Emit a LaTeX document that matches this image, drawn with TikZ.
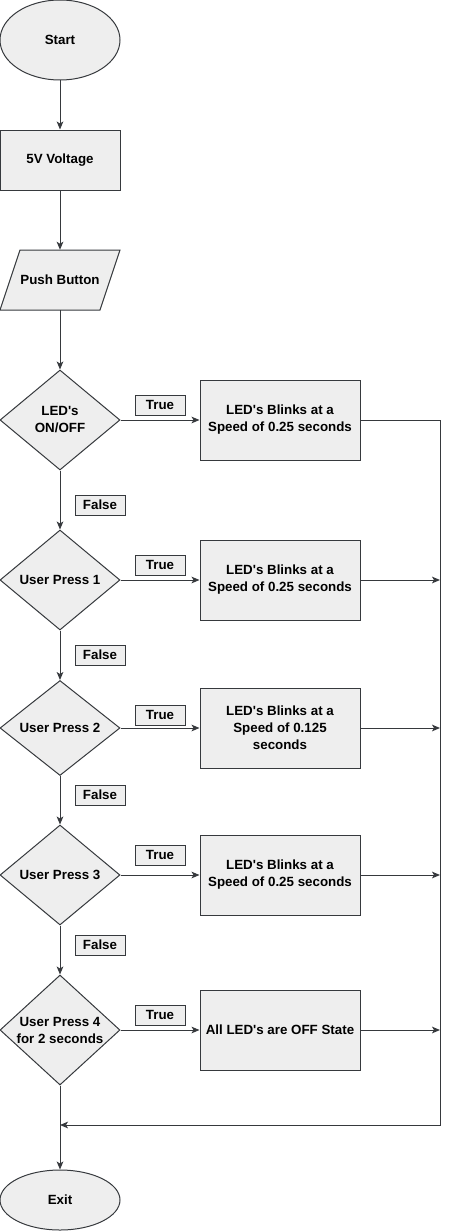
\documentclass[tikz,border=0pt]{standalone}
\usepackage{fontspec}
\setmainfont{Liberation Sans}[Ligatures=TeXOff]
\usetikzlibrary{shapes.geometric,arrows.meta}
\definecolor{fillg}{HTML}{EEEEEE}
\definecolor{strk}{HTML}{36393D}
\begin{document}
\begin{tikzpicture}[x=0.75pt,y=-0.75pt,
  base/.style={draw=strk,fill=fillg,font=\bfseries\fontsize{10}{12.75}\selectfont,align=center,inner sep=0pt,line width=0.75pt},
  term/.style={base,ellipse,minimum width=90pt},
  proc/.style={base,rectangle,minimum width=90pt,minimum height=45pt},
  act/.style={base,rectangle,minimum width=120pt,minimum height=60pt},
  dec/.style={base,diamond,minimum width=90pt,minimum height=75pt},
  tag/.style={base,rectangle,minimum width=37.5pt,minimum height=15pt},
  txt/.style={font=\bfseries\fontsize{10}{12.75}\selectfont,align=center,inner sep=0pt},
  arr/.style={draw=strk,line width=0.75pt,-{Stealth[length=6pt,width=5pt,inset=1.5pt]}},
  ln/.style={draw=strk,line width=0.75pt}
]
\useasboundingbox (0,0) rectangle (449,1231);

\node[term,minimum height=60pt] (start) at (60,40) {Start};
\node[proc] (volt) at (60,160) {5V Voltage};
\coordinate (pbtl) at (20,250);
\coordinate (pbtr) at (120,250);
\coordinate (pbbr) at (100,310);
\coordinate (pbbl) at (0,310);
\filldraw[base] (pbtl) -- (pbtr) -- (pbbr) -- (pbbl) -- cycle;
\node[txt,minimum width=90pt,minimum height=45pt] (pb) at (60,280) {Push Button};

\node[dec] (d1) at (60,420) {};
\node[txt] (d1t) at (d1) {LED's\\ON/OFF};
\node[dec] (d2) at (60,580) {};
\node[txt] (d2t) at (d2) {User Press 1};
\node[dec,minimum height=71.25pt] (d3) at (60,728) {};
\node[txt] (d3t) at (d3) {User Press 2};
\node[dec] (d4) at (60,875) {};
\node[txt] (d4t) at (d4) {User Press 3};
\node[dec,minimum height=82.5pt] (d5) at (60,1030) {};
\node[txt] (d5t) at (d5) {User Press 4\\for 2 seconds};

\node[act] (b1) at (280,420) {LED's Blinks at a\\Speed of 0.25 seconds};
\node[act] (b2) at (280,580) {LED's Blinks at a\\Speed of 0.25 seconds};
\node[act] (b3) at (280,728) {LED's Blinks at a\\Speed of 0.125\\seconds};
\node[act] (b4) at (280,875) {LED's Blinks at a\\Speed of 0.25 seconds};
\node[act] (b5) at (280,1030) {All LED's are OFF State};

\node[term,minimum height=45pt] (exit) at (60,1200) {Exit};

\node[tag] (t1) at (160,405) {True};
\node[tag] (t2) at (160,565) {True};
\node[tag] (t3) at (160,715) {True};
\node[tag] (t4) at (160,855) {True};
\node[tag] (t5) at (160,1015) {True};
\node[tag] (f1) at (100,505) {False};
\node[tag] (f2) at (100,655) {False};
\node[tag] (f3) at (100,795) {False};
\node[tag] (f4) at (100,945) {False};

\draw[arr] (start.south) -- (volt.north);
\draw[arr] (volt.south) -- (pb.north);
\draw[arr] (pb.south) -- (d1.north);
\draw[arr] (d1.south) -- (d2.north);
\draw[arr] (d2.south) -- (d3.north);
\draw[arr] (d3.south) -- (d4.north);
\draw[arr] (d4.south) -- (d5.north);
\draw[arr] (d5.south) -- (exit.north);

\draw[arr] (d1.east) -- (b1.west);
\draw[arr] (d2.east) -- (b2.west);
\draw[arr] (d3.east) -- (b3.west);
\draw[arr] (d4.east) -- (b4.west);
\draw[arr] (d5.east) -- (b5.west);

\coordinate (trtop) at (440,420);
\coordinate (trbot) at (440,1125);
\coordinate (join) at (60,1125);
\draw[arr] (b1.east) -- (trtop) -- (trbot) -- (join);
\draw[arr] (b2.east) -- (b2.east -| trbot);
\draw[arr] (b3.east) -- (b3.east -| trbot);
\draw[arr] (b4.east) -- (b4.east -| trbot);
\draw[arr] (b5.east) -- (b5.east -| trbot);
\end{tikzpicture}
\end{document}
